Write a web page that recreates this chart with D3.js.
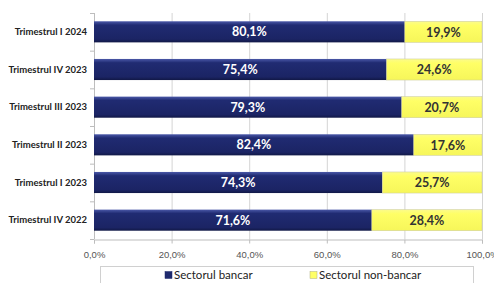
<!DOCTYPE html>
<html>
<head>
<meta charset="utf-8">
<script src="https://cdn.jsdelivr.net/npm/d3@7"></script>
<style>
  body { margin: 0; background: #fff; }
  svg { font-family: Lato, "Open Sans", sans-serif; }
  .grid line { stroke: #d4d4d4; }
  .axis path, .axis line { stroke: #bdbdbd; }
  .axis text { fill: #555; font-size: 9.5px; }
</style>
</head>
<body>
<svg id="chart"></svg>
<script>
// categories top to bottom
const quarters = ['Trimestrul I 2024', 'Trimestrul IV 2023', 'Trimestrul III 2023',
                  'Trimestrul II 2023', 'Trimestrul I 2023', 'Trimestrul IV 2022'];
const bancar = [80.1, 75.4, 79.3, 82.4, 74.3, 71.6];
const nonBancar = [19.9, 24.6, 20.7, 17.6, 25.7, 28.4];
const xTicks = [0, 20, 40, 60, 80, 100];
const seriesNames = ['Sectorul bancar', 'Sectorul non-bancar'];

const w = 494, h = 283;
const mLeft = 94, mRight = 482, mTop = 13, mBottom = 239;

const fmt = (v) => v.toFixed(1).replace('.', ',') + '%';

let svg = d3.select('#chart').attr('width', w).attr('height', h);

let defs = svg.append('defs');
let grad = defs.append('linearGradient').attr('id', 'navy')
  .attr('x1', 0).attr('y1', 0).attr('x2', 0).attr('y2', 1);
grad.append('stop').attr('offset', '0%').attr('stop-color', '#4a58a8');
grad.append('stop').attr('offset', '18%').attr('stop-color', '#202b72');
grad.append('stop').attr('offset', '85%').attr('stop-color', '#1b2464');
grad.append('stop').attr('offset', '100%').attr('stop-color', '#111846');

let yel = defs.append('linearGradient').attr('id', 'yel')
  .attr('x1', 0).attr('y1', 0).attr('x2', 0).attr('y2', 1);
yel.append('stop').attr('offset', '0%').attr('stop-color', '#fbfb8c');
yel.append('stop').attr('offset', '20%').attr('stop-color', '#ffff66');
yel.append('stop').attr('offset', '100%').attr('stop-color', '#f6f65a');

let xScale = d3.scaleLinear().domain([0, 100]).range([mLeft, mRight]);
let yScale = d3.scaleBand().domain(quarters).range([mTop, mBottom]).paddingInner(0.44).paddingOuter(0.22);

// gridlines
svg.append('g').attr('class', 'grid')
  .selectAll('line')
  .data(xTicks.slice(1))
  .enter()
  .append('line')
  .attr('x1', (d) => xScale(d) + 0.5)
  .attr('x2', (d) => xScale(d) + 0.5)
  .attr('y1', mTop)
  .attr('y2', mBottom);

// x axis
let xAxis = d3.axisBottom(xScale).tickValues(xTicks).tickSize(4).tickFormat(fmt);
svg.append('g').attr('class', 'axis')
  .attr('transform', `translate(0, ${mBottom + 0.5})`)
  .call(xAxis)
  .call((g) => g.selectAll('text').attr('dy', '1.25em'));

// y axis line + ticks at band boundaries
let yAx = svg.append('g').attr('class', 'axis');
yAx.append('line')
  .attr('x1', mLeft + 0.5).attr('x2', mLeft + 0.5)
  .attr('y1', mTop).attr('y2', mBottom);
let bounds = d3.range(quarters.length + 1).map((i) => mTop + i * (mBottom - mTop) / quarters.length);
yAx.selectAll('.tk')
  .data(bounds)
  .enter()
  .append('line')
  .attr('x1', mLeft - 4).attr('x2', mLeft)
  .attr('y1', (d) => d + 0.5).attr('y2', (d) => d + 0.5);

// category labels
svg.append('g')
  .selectAll('text')
  .data(quarters)
  .enter()
  .append('text')
  .attr('x', mLeft - 7)
  .attr('y', (d) => yScale(d) + yScale.bandwidth() / 2)
  .attr('dy', '0.35em')
  .attr('text-anchor', 'end')
  .attr('font-size', 9.5)
  .attr('font-weight', 'bold')
  .attr('fill', '#222')
  .text((d) => d);

// bars
let rows = quarters.map((q, i) => ({ q: q, a: bancar[i], b: nonBancar[i] }));

svg.append('g')
  .selectAll('rect')
  .data(rows)
  .enter()
  .append('rect')
  .attr('x', xScale(0))
  .attr('y', (d) => yScale(d.q))
  .attr('width', (d) => xScale(d.a) - xScale(0))
  .attr('height', yScale.bandwidth())
  .attr('fill', 'url(#navy)');

svg.append('g')
  .selectAll('rect')
  .data(rows)
  .enter()
  .append('rect')
  .attr('x', (d) => xScale(d.a))
  .attr('y', (d) => yScale(d.q))
  .attr('width', (d) => xScale(d.a + d.b) - xScale(d.a))
  .attr('height', yScale.bandwidth())
  .attr('fill', 'url(#yel)')
  .attr('stroke', '#c8c8a0')
  .attr('stroke-width', 0.5);

// value labels
svg.append('g')
  .selectAll('text')
  .data(rows)
  .enter()
  .append('text')
  .attr('x', (d) => (xScale(0) + xScale(d.a)) / 2)
  .attr('y', (d) => yScale(d.q) + yScale.bandwidth() / 2)
  .attr('dy', '0.36em')
  .attr('text-anchor', 'middle')
  .attr('font-size', 12.5)
  .attr('font-weight', 'bold')
  .attr('fill', '#fff')
  .text((d) => fmt(d.a));

svg.append('g')
  .selectAll('text')
  .data(rows)
  .enter()
  .append('text')
  .attr('x', (d) => (xScale(d.a) + xScale(d.a + d.b)) / 2)
  .attr('y', (d) => yScale(d.q) + yScale.bandwidth() / 2)
  .attr('dy', '0.38em')
  .attr('text-anchor', 'middle')
  .attr('font-size', 12.5)
  .attr('font-weight', 'bold')
  .attr('fill', '#333')
  .text((d) => fmt(d.b));

// legend
let lg = svg.append('g');
lg.append('rect')
  .attr('x', 100.5).attr('y', 266.5)
  .attr('width', 373).attr('height', 20)
  .attr('fill', '#fff')
  .attr('stroke', '#d0d0d0');

let legendItems = [
  { name: seriesNames[0], x: 165, fill: '#1f2a6e', stroke: '#1f2a6e' },
  { name: seriesNames[1], x: 310, fill: '#ffff66', stroke: '#b0b080' }
];
let li = lg.selectAll('g.item')
  .data(legendItems)
  .enter()
  .append('g')
  .attr('transform', (d) => `translate(${d.x}, 275)`);
li.append('rect')
  .attr('x', 0).attr('y', -3.5)
  .attr('width', 7).attr('height', 7)
  .attr('fill', (d) => d.fill)
  .attr('stroke', (d) => d.stroke)
  .attr('stroke-width', 0.5);
li.append('text')
  .attr('x', 9)
  .attr('dy', '0.35em')
  .attr('font-size', 11.5)
  .attr('fill', '#222')
  .text((d) => d.name);
</script>
</body>
</html>
